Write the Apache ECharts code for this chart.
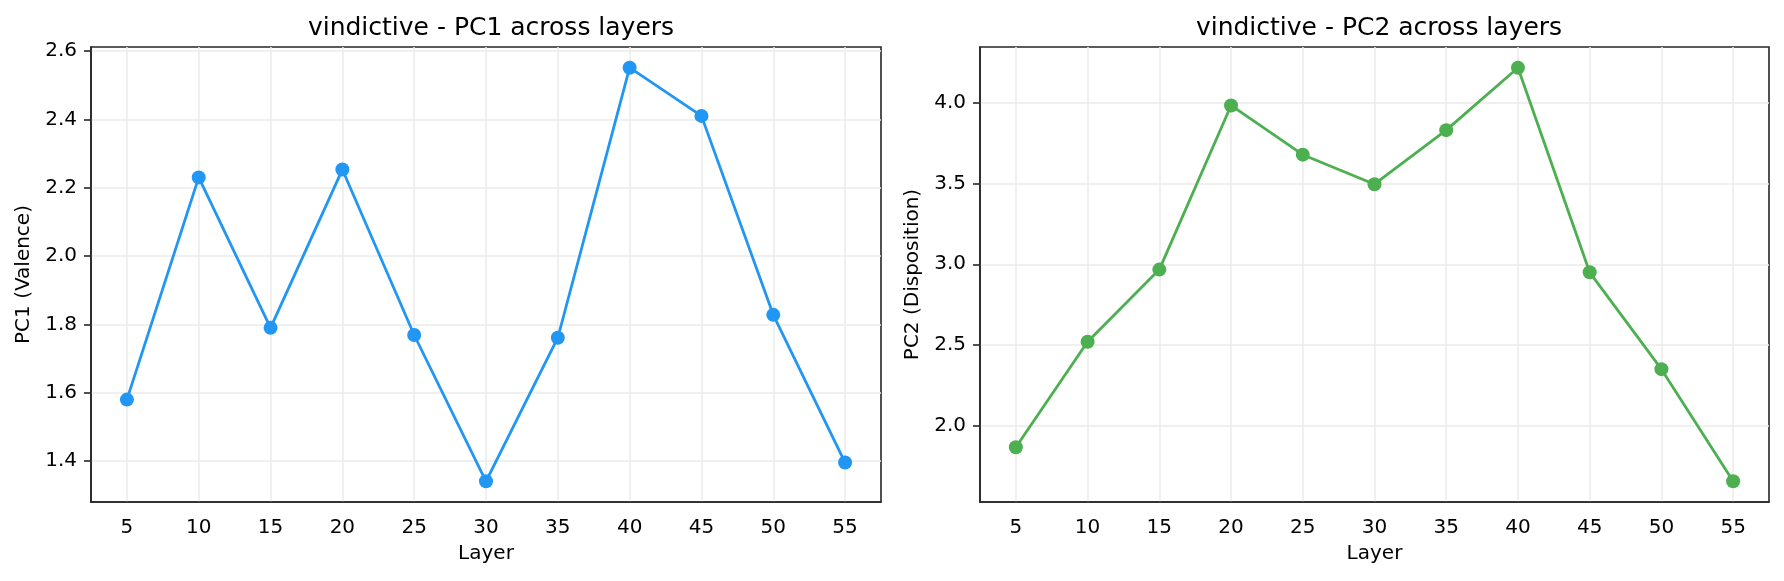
<!DOCTYPE html>
<html>
<head>
<meta charset="utf-8">
<script src="https://cdn.jsdelivr.net/npm/echarts@6/dist/echarts.min.js"></script>
<style>
  html, body { margin: 0; padding: 0; background: #fff; }
  #chart { width: 1784px; height: 581px; }
</style>
</head>
<body>
<div id="chart"></div>
<script>
// layer numbers on the x axis
const layers = ['5', '10', '15', '20', '25', '30', '35', '40', '45', '50', '55'];
// PC1 (valence) per layer
const pc1Values = [1.580, 2.230, 1.790, 2.253, 1.769, 1.341, 1.761, 2.551, 2.410, 1.828, 1.396];
// PC2 (disposition) per layer
const pc2Values = [1.866, 2.520, 2.967, 3.984, 3.679, 3.496, 3.831, 4.218, 2.950, 2.350, 1.655];
// y tick labels
const pc1Ticks = [1.4, 1.6, 1.8, 2.0, 2.2, 2.4, 2.6];
const pc2Ticks = [2.0, 2.5, 3.0, 3.5, 4.0];

const titles = ['vindictive - PC1 across layers', 'vindictive - PC2 across layers'];
const yNames = ['PC1 (Valence)', 'PC2 (Disposition)'];

const font = 'DejaVu Sans';
const dark = '#262626';
const gridColor = '#ebebeb';

// matplotlib style padding: 5% of data range on each side
function pad(vals) {
  const lo = Math.min(...vals), hi = Math.max(...vals);
  const m = (hi - lo) * 0.05;
  return [lo - m, hi + m];
}

function xAxis(gridIndex) {
  return {
    type: 'category',
    gridIndex: gridIndex,
    data: layers,
    boundaryGap: true,
    name: 'Layer',
    nameLocation: 'middle',
    nameGap: 42,
    nameTextStyle: { fontFamily: font, fontSize: 20, color: '#000' },
    axisLine: { lineStyle: { color: dark, width: 1.6 } },
    axisTick: { alignWithLabel: true, interval: 0, length: 7, lineStyle: { color: dark, width: 1.6 } },
    axisLabel: { fontFamily: font, fontSize: 20, color: '#000', margin: 16, interval: 0 },
    splitLine: { show: true, alignWithLabel: true, interval: 0, lineStyle: { color: gridColor, width: 1.5 } }
  };
}

function yAxis(gridIndex, vals, ticks) {
  const ext = pad(vals);
  return {
    type: 'value',
    gridIndex: gridIndex,
    min: ext[0],
    max: ext[1],
    name: yNames[gridIndex],
    nameLocation: 'middle',
    nameGap: 57,
    nameTextStyle: { fontFamily: font, fontSize: 20, color: '#000' },
    axisLine: { show: true, lineStyle: { color: dark, width: 1.6 } },
    axisTick: { show: true, length: 7, customValues: ticks, lineStyle: { color: dark, width: 1.6 } },
    axisLabel: {
      fontFamily: font, fontSize: 20, color: '#000', margin: 14,
      customValues: ticks,
      formatter: function (v) { return v.toFixed(1); }
    },
    splitLine: { show: true, customValues: ticks, lineStyle: { color: gridColor, width: 1.5 } }
  };
}

const chart = echarts.init(document.getElementById('chart'));

chart.setOption({
  animation: false,
  backgroundColor: '#fff',
  title: [
    { text: titles[0], left: 486, top: 11, textAlign: 'center',
      textStyle: { fontFamily: font, fontSize: 25, fontWeight: 'normal', color: '#000' } },
    { text: titles[1], left: 1374, top: 11, textAlign: 'center',
      textStyle: { fontFamily: font, fontSize: 25, fontWeight: 'normal', color: '#000' } }
  ],
  grid: [
    { left: 91, width: 790, top: 47, height: 455, show: true, borderColor: dark, borderWidth: 1.6 },
    { left: 980, width: 789, top: 47, height: 455, show: true, borderColor: dark, borderWidth: 1.6 }
  ],
  xAxis: [xAxis(0), xAxis(1)],
  yAxis: [yAxis(0, pc1Values, pc1Ticks), yAxis(1, pc2Values, pc2Ticks)],
  series: [
    {
      type: 'line', xAxisIndex: 0, yAxisIndex: 0, data: pc1Values,
      symbol: 'circle', symbolSize: 14,
      lineStyle: { color: '#2196F3', width: 2.8 },
      itemStyle: { color: '#2196F3' }
    },
    {
      type: 'line', xAxisIndex: 1, yAxisIndex: 1, data: pc2Values,
      symbol: 'circle', symbolSize: 14,
      lineStyle: { color: '#4CAF50', width: 2.8 },
      itemStyle: { color: '#4CAF50' }
    }
  ]
});

window.addEventListener('resize', () => chart.resize());
</script>
</body>
</html>
